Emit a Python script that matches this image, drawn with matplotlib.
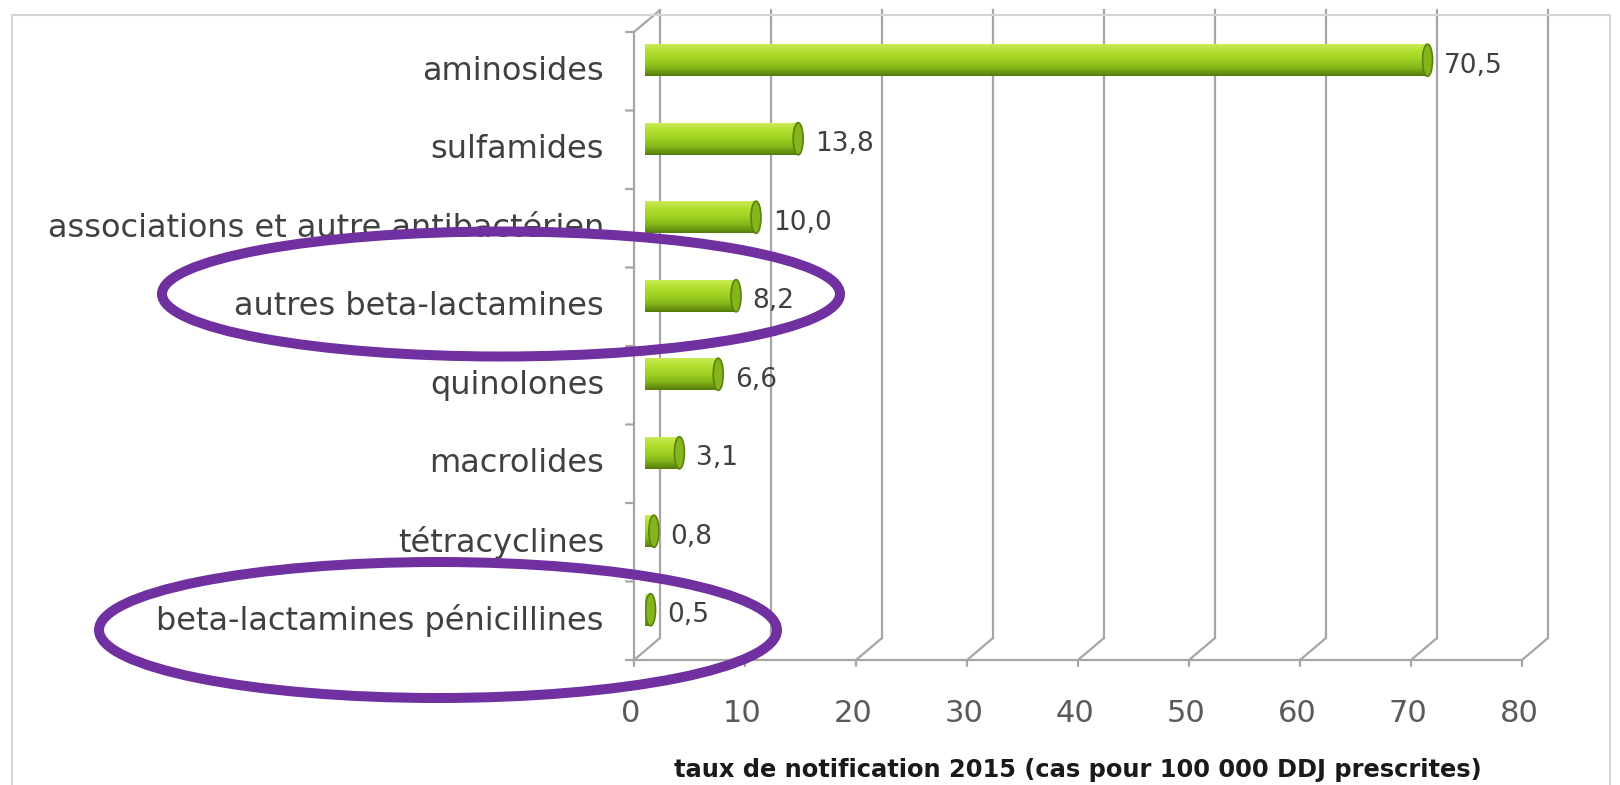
import numpy as np
import matplotlib
matplotlib.use("Agg")
import matplotlib.pyplot as plt
from matplotlib.patches import ConnectionPatch, Ellipse, Rectangle
from matplotlib.colors import LinearSegmentedColormap
from matplotlib.transforms import offset_copy, IdentityTransform

# data (top to bottom)
categories = ["aminosides", "sulfamides", "associations et autre antibactérien",
              "autres beta-lactamines", "quinolones", "macrolides",
              "tétracyclines", "beta-lactamines pénicillines"]
values = [70.5, 13.8, 10.0, 8.2, 6.6, 3.1, 0.8, 0.5]
xticks = [0, 10, 20, 30, 40, 50, 60, 70, 80]
xlabel = "taux de notification 2015 (cas pour 100 000 DDJ prescrites)"

W, H = 1620, 785
fig = plt.figure(figsize=(W / 100, H / 100), dpi=100)
# axes = middle depth plane of the pseudo 3D box
ax = fig.add_axes([645 / W, (H - 649) / H, 888 / W, 628 / H])
ax.set_xlim(0, 80)
ax.set_ylim(len(categories) - 0.5, -0.5)
ax.set_axis_off()

front = offset_copy(ax.transData, fig=fig, x=-11, y=-11, units="dots")
back = offset_copy(ax.transData, fig=fig, x=15, y=11, units="dots")
grid_c = "#a6a6a6"
ybot, ytop = len(categories) - 0.5, -0.5


def link(pa, ta, pb, tb, **kw):
    cp = ConnectionPatch(pa, pb, coordsA=ta, coordsB=tb, color=grid_c,
                         lw=1.6, clip_on=False, **kw)
    fig.add_artist(cp)


# back wall gridlines + floor diagonals + bottom ticks
for v in xticks:
    ax.plot([v, v], [ybot, ytop], color=grid_c, lw=1.6, transform=back,
            clip_on=False, zorder=1)
    link((v, ybot), front, (v, ybot), back)
    link((v, ybot), front, (v, ybot),
         offset_copy(front, fig=fig, x=0, y=-6, units="dots"))
    ax.text(v, ybot, str(v), transform=offset_copy(front, fig=fig, x=-3, y=-53, units="dots"),
            ha="center", va="center", fontsize=22, color="#5a5a5a")

# floor front edge and left wall
ax.plot([0, 80], [ybot, ybot], color=grid_c, lw=1.6, transform=front, clip_on=False)
ax.plot([0, 0], [ybot, ytop], color=grid_c, lw=1.6, transform=front, clip_on=False)
link((0, ytop), front, (0, ytop), back)
for k in range(len(categories) + 1):
    yb = -0.5 + k
    link((0, yb), front, (0, yb), offset_copy(front, fig=fig, x=-8, y=0, units="dots"))

# category labels
lab_tr = offset_copy(front, fig=fig, x=-30, y=0, units="dots")
for i, c in enumerate(categories):
    ax.text(0, i, c, transform=lab_tr, ha="right", va="center",
            fontsize=23, color="#404040")

# cylinder-like bars
cmap = LinearSegmentedColormap.from_list(
    "cyl", ["#cdec5c", "#b2df2e", "#a0d223", "#86b619", "#567d0d"])
bh = 0.41
bars = ax.barh(range(len(values)), values, height=bh, color="none",
               edgecolor="none", zorder=3)
grad = np.linspace(0, 1, 64)[:, None]
for i, (b, v) in enumerate(zip(bars, values)):
    im = ax.imshow(grad, cmap=cmap, aspect="auto", origin="upper",
                   extent=(0, v, i + bh / 2, i - bh / 2), zorder=3)
    im.set_clip_path(b)
    ax.add_patch(Ellipse((v, i), 0.9, bh, facecolor="#86b41c",
                         edgecolor="#5a830e", lw=1.2, zorder=4))
    ax.annotate(f"{v:.1f}".replace(".", ","), (v, i), xytext=(12, -4),
                textcoords="offset points", ha="left", va="center",
                fontsize=19, color="#404040")
ax.set_xlim(0, 80)
ax.set_ylim(len(categories) - 0.5, -0.5)

fig.text(1078 / W, 1 - 770 / H, xlabel, ha="center", va="center",
         fontsize=17.4, fontweight="bold", color="#1a1a1a")

# highlight ellipses (pixel coordinates)
for cx, cy, ew, eh in [(501, 294, 678, 125), (438, 630, 678, 136)]:
    fig.add_artist(Ellipse((cx, H - cy), ew, eh, transform=IdentityTransform(),
                           fill=False, edgecolor="#7030a0", lw=7.2, zorder=10))

# light frame
fig.add_artist(Rectangle((12, -5), 1598, H - 15 + 5, transform=IdentityTransform(),
                         fill=False, edgecolor="#d4d4d4", lw=1.5))

fig.savefig("out.png", dpi=100)
